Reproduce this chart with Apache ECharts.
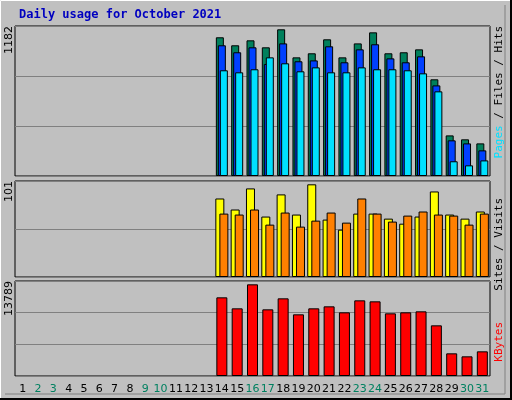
<!DOCTYPE html>
<html><head><meta charset="utf-8">
<script src="https://cdn.jsdelivr.net/npm/echarts@6/dist/echarts.min.js"></script>
<style>html,body{margin:0;padding:0;background:#c0c0c0}#c{width:512px;height:400px}</style>
</head><body><div id="c"></div>
<script>
const days = Array.from({length:31},(_,i)=>String(i+1));
const weekend = ['2','3','9','10','16','17','23','24','30','31'];
const N = null;
const pad = [N,N,N,N,N,N,N,N,N,N,N,N,N];
const hits  = pad.concat([1093,1030,1069,1014,1156,935,967,1077,935,1045,1132,967,975,998,762,320,289,257]);
const files = pad.concat([1030,975,1014,883,1045,904,911,1022,896,998,1038,927,896,943,714,281,257,202]);
const pages = pad.concat([833,817,841,935,888,825,856,817,817,856,841,841,833,809,667,116,84,123]);
const sites = pad.concat([82.6,71,93.2,63.6,86.9,65.7,97.5,60.4,49.8,66.7,66.7,61.4,56.1,63.6,90,65.7,61.4,68.9]);
const visits= pad.concat([66.7,65.7,71,55.1,67.8,53,59.3,67.8,57.2,82.6,66.7,58.3,64.6,68.9,65.7,64.6,55.1,66.7]);
const kbytes= pad.concat([11418,9821,13305,9676,11273,8951,9821,10112,9241,10983,10837,9096,9241,9386,7354,3290,2854,3580]);
const maxes = [1182,101,13789];

const chart = echarts.init(document.getElementById('c'));
const grids = [{top:26,height:150},{top:181,height:96},{top:281,height:95}].map(g=>Object.assign({left:15,right:22,show:true,backgroundColor:'#c0c0c0',borderColor:'#000',borderWidth:1},g));
const xAxes = grids.map((g,i)=>({type:'category',gridIndex:i,data:days,
  axisLine:{show:false},axisTick:{show:false},
  axisLabel:{show:i===2,fontFamily:'DejaVu Sans',fontSize:11,margin:8,interval:0,
    color:v=>weekend.includes(v)?'#008060':'#000'}}));
const yAxes = grids.map((g,i)=>({type:'value',gridIndex:i,min:0,max:maxes[i],interval:maxes[i]/(i===0?3:i===1?2:3),
  axisLabel:{show:false},axisLine:{show:false},axisTick:{show:false},
  splitLine:{show:true,lineStyle:{color:'#808080',width:1}}}));
yAxes[1].interval=maxes[1]/2;
const bs = {borderColor:'#000',borderWidth:1};
const series = [
 {type:'bar',xAxisIndex:0,yAxisIndex:0,data:hits,barWidth:8,barGap:'-75%',itemStyle:Object.assign({color:'#00805c'},bs)},
 {type:'bar',xAxisIndex:0,yAxisIndex:0,data:files,barWidth:8,barGap:'-75%',itemStyle:Object.assign({color:'#0040ff'},bs)},
 {type:'bar',xAxisIndex:0,yAxisIndex:0,data:pages,barWidth:8,barGap:'-75%',itemStyle:Object.assign({color:'#00e0ff'},bs)},
 {type:'bar',xAxisIndex:1,yAxisIndex:1,data:sites,barWidth:9,barGap:'-55%',itemStyle:Object.assign({color:'#ffff00'},bs)},
 {type:'bar',xAxisIndex:1,yAxisIndex:1,data:visits,barWidth:9,barGap:'-55%',itemStyle:Object.assign({color:'#ff8000'},bs)},
 {type:'bar',xAxisIndex:2,yAxisIndex:2,data:kbytes,barWidth:11,itemStyle:Object.assign({color:'#ff0000'},bs)}
];
const mono = 'DejaVu Sans Mono';
const rtext = (x,y,text,rich)=>({type:'text',x:x,y:y,rotation:Math.PI/2,style:{text:text,rich:rich,font:'11px '+mono,fill:'#000',textAlign:'right',textVerticalAlign:'top'}});
chart.setOption({
  animation:false,
  grid:grids,xAxis:xAxes,yAxis:yAxes,series:series,
  graphic:[
    {type:'rect',shape:{x:0.5,y:0.5,width:510,height:398},style:{fill:'none',stroke:'#fff',lineWidth:1}},
    {type:'polyline',shape:{points:[[511,0],[511,399],[0,399]]},style:{stroke:'#000',lineWidth:2,fill:'none'}},
    {type:'polyline',shape:{points:[[505,5],[505,394],[5,394]]},style:{stroke:'#808080',lineWidth:1,fill:'none'}},
    {type:'text',left:19,top:9,style:{text:'Daily usage for October 2021',font:'bold 12px '+mono,fill:'#0000c0'}},
    {type:'text',x:4,y:26,rotation:Math.PI/2,style:{text:'1182',font:'11px DejaVu Sans',fill:'#000',textAlign:'right',textVerticalAlign:'top'}},
    {type:'text',x:4,y:181,rotation:Math.PI/2,style:{text:'101',font:'11px DejaVu Sans',fill:'#000',textAlign:'right',textVerticalAlign:'top'}},
    {type:'text',x:4,y:281,rotation:Math.PI/2,style:{text:'13789',font:'11px DejaVu Sans',fill:'#000',textAlign:'right',textVerticalAlign:'top'}},
    {type:'text',x:494,y:26,rotation:Math.PI/2,style:{text:'{a|Pages} / {b|Files} / {c|Hits}',font:'11px '+mono,fill:'#000',textAlign:'right',textVerticalAlign:'top',
      rich:{a:{fill:'#00e0ff',color:'#00c8e8',font:'11px '+mono},b:{color:'#0040ff',font:'11px '+mono},c:{color:'#00805c',font:'11px '+mono}}}},
    {type:'text',x:494,y:198,rotation:Math.PI/2,style:{text:'{a|Sites} / {b|Visits}',font:'11px '+mono,fill:'#000',textAlign:'right',textVerticalAlign:'top',
      rich:{a:{color:'#ff8000',font:'11px '+mono},b:{color:'#ffff00',font:'11px '+mono}}}},
    {type:'text',x:494,y:322,rotation:Math.PI/2,style:{text:'KBytes',font:'11px '+mono,fill:'#ff0000',textAlign:'right',textVerticalAlign:'top'}}
  ]
});
</script></body></html>
